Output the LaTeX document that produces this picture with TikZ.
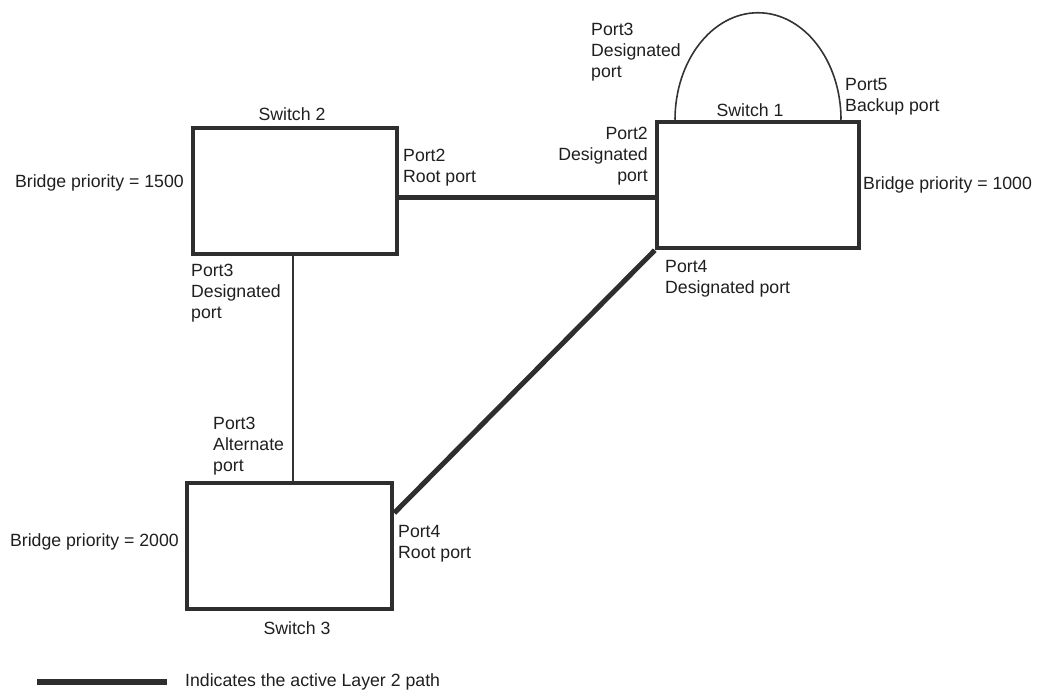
\documentclass[tikz,border=0pt]{standalone}
\usepackage{fontspec}
\setmainfont{Liberation Sans}
\begin{document}
\begin{tikzpicture}[x=1pt,y=-1pt,
  font=\fontsize{17.7pt}{21pt}\selectfont,
  every node/.style={inner sep=0pt, text=black!88},
  sw/.style={draw=black!82, line width=4.5pt, minimum height=126pt},
  active/.style={draw=black!82, line width=5pt},
  thin/.style={draw=black!80, line width=1.6pt},
  lbl/.style={align=left, anchor=west},
  lblr/.style={align=right, anchor=east}]
\useasboundingbox (0,0) rectangle (1040,695);
% switches
\node[sw, minimum width=202pt] (s1) at (758,185) {};
\node[sw, minimum width=204pt] (s2) at (295,191) {};
\node[sw, minimum width=205pt] (s3) at (289.5,546) {};
% connectors
\draw[active] ([yshift=-6pt]s2.east) -- ([yshift=-6pt]s2.east -| s1.west);
\draw[thin] ([xshift=-2pt]s2.south) -- ([xshift=-2pt]s2.south |- s3.north);
\draw[active] ([yshift=33pt]s3.east) -- (s1.south west);
\draw[thin] ([xshift=-83pt]s1.north) arc[start angle=180, end angle=0, x radius=83pt, y radius=107pt];
% switch labels
\node (t1) at (750,110) {Switch 1};
\node (t2) at (292,114) {Switch 2};
\node (t3) at (297,628) {Switch 3};
% priorities
\node[anchor=west] (b1) at (863,185) {Bridge priority = 1000};
\node[anchor=east] (b2) at (184,183) {Bridge priority = 1500};
\node[anchor=east] (b3) at (179,542) {Bridge priority = 2000};
% port labels
\node[lbl] (p13) at (591,52) {Port3\\Designated\\port};
\node[lbl] (p15) at (845,97) {Port5\\Backup port};
\node[lblr] (p12) at (648,156) {Port2\\Designated\\port};
\node[lbl] (p14) at (665,279) {Port4\\Designated port};
\node[lbl] (p22) at (403,168) {Port2\\Root port};
\node[lbl] (p23) at (191,293) {Port3\\Designated\\port};
\node[lbl] (p33) at (213,446) {Port3\\Alternate\\port};
\node[lbl] (p34) at (398,544) {Port4\\Root port};
% legend
\coordinate (l1) at (37,682);
\coordinate (l2) at (167,682);
\draw[active, line width=6pt] (l1) -- (l2);
\node[anchor=west] (lt) at (185,682) {Indicates the active Layer 2 path};
\end{tikzpicture}
\end{document}
